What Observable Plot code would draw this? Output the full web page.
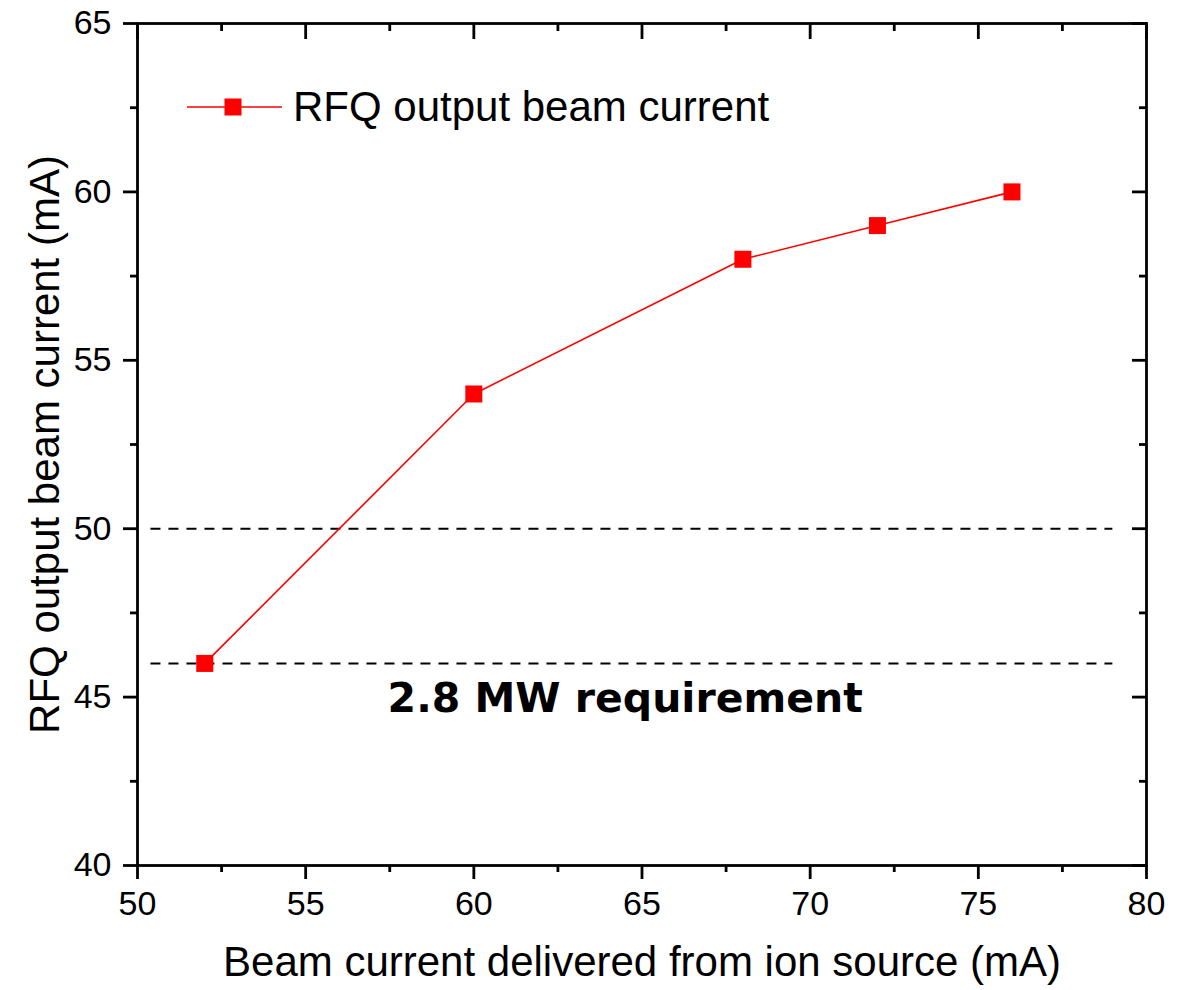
<!DOCTYPE html>
<html>
<head>
<meta charset="utf-8">
<script src="https://cdn.jsdelivr.net/npm/d3@7"></script>
<script src="https://cdn.jsdelivr.net/npm/@observablehq/plot@0.6"></script>
<style>
  html, body { margin: 0; padding: 0; background: #fff; }
  #wrap { position: relative; width: 1191px; height: 990px; }
  #legend { position: absolute; left: 187px; top: 83px; height: 48px; display: flex; align-items: center;
    font-family: "Liberation Sans", Arial, sans-serif; font-size: 42px; color: #000; }
  #legend svg { margin-right: 11px; }
</style>
</head>
<body>
<div id="wrap">
  <div id="chart"></div>
  <div id="legend"></div>
</div>
<script>
// ---- data ----
const sourceCurrent = [52, 60, 68, 72, 76];        // mA delivered from ion source
const rfqCurrent    = [46, 54, 58, 59, 60];        // RFQ output beam current (mA)
const seriesName = "RFQ output beam current";
const requirementLevels = [50, 46];
const requirementSpan = [50.4, 79];
const xTicks = [50, 55, 60, 65, 70, 75, 80];
const xMinorTicks = [52.5, 57.5, 62.5, 67.5, 72.5, 77.5];
const yTicks = [40, 45, 50, 55, 60, 65];
const yMinorTicks = [42.5, 47.5, 52.5, 57.5, 62.5];
const annotation = [{x: 64.5, y: 45, text: "2.8 MW requirement"}];
const xTitle = "Beam current delivered from ion source (mA)";
const yTitle = "RFQ output beam current (mA)";

const data = sourceCurrent.map((x, i) => ({x, y: rfqCurrent[i]}));
const blank = () => "";
const axisW = 2.8;

const chart = Plot.plot({
  width: 1191,
  height: 990,
  marginLeft: 137,
  marginRight: 45,
  marginTop: 23,
  marginBottom: 125,
  x: {domain: [50, 80]},
  y: {domain: [40, 65]},
  style: {fontFamily: "'Liberation Sans', Arial, sans-serif", color: "#000", background: "#fff", overflow: "visible"},
  marks: [
    // requirement lines
    Plot.ruleY(requirementLevels, {y: d => d, x1: requirementSpan[0], x2: requirementSpan[1],
      stroke: "#000", strokeWidth: 2, strokeDasharray: "10,8"}),
    // bottom axis
    Plot.axisX({ticks: xTicks, tickSize: 14, tickPadding: 11, fontSize: 34, strokeWidth: axisW, label: null}),
    Plot.axisX({ticks: xMinorTicks, tickSize: 7, tickFormat: blank, strokeWidth: axisW, label: null}),
    // top axis (inward)
    Plot.axisX({anchor: "top", ticks: xTicks, tickSize: -15, tickFormat: blank, strokeWidth: axisW, label: null}),
    Plot.axisX({anchor: "top", ticks: xMinorTicks, tickSize: -7, tickFormat: blank, strokeWidth: axisW, label: null}),
    // left axis
    Plot.axisY({ticks: yTicks, tickSize: 14, tickPadding: 12, fontSize: 34, strokeWidth: axisW, label: null}),
    Plot.axisY({ticks: yMinorTicks, tickSize: 7, tickFormat: blank, strokeWidth: axisW, label: null}),
    // right axis (inward)
    Plot.axisY({anchor: "right", ticks: yTicks, tickSize: -15, tickFormat: blank, strokeWidth: axisW, label: null}),
    Plot.axisY({anchor: "right", ticks: yMinorTicks, tickSize: -8, tickFormat: blank, strokeWidth: axisW, label: null}),
    Plot.frame({stroke: "#000", strokeWidth: axisW}),
    // axis titles
    Plot.text([xTitle], {frameAnchor: "bottom", dy: 97, fontSize: 42, lineAnchor: "middle", textAnchor: "middle"}),
    Plot.text([yTitle], {frameAnchor: "left", dx: -92, rotate: -90, fontSize: 42, lineAnchor: "middle", textAnchor: "middle"}),
    // series
    Plot.line(data, {x: "x", y: "y", stroke: "#ff0000", strokeWidth: 1.6}),
    Plot.dot(data, {x: "x", y: "y", symbol: "square", r: 9.6, fill: "#ff0000", stroke: "none"}),
    // annotation
    Plot.text(annotation, {x: "x", y: "y", text: "text", fontSize: 41, fontWeight: "bold",
      fontFamily: "'DejaVu Sans', sans-serif", lineAnchor: "middle", fill: "#000", dy: 2})
  ]
});
document.getElementById("chart").appendChild(chart);

// legend (inside the plot area, top-left)
const lg = document.getElementById("legend");
lg.innerHTML = `<svg width="95" height="20" viewBox="0 0 95 20">
  <line x1="0" y1="10" x2="95" y2="10" stroke="#ff0000" stroke-width="1.6"/>
  <rect x="37.5" y="1.5" width="17" height="17" fill="#ff0000"/>
</svg><span>${seriesName}</span>`;
</script>
</body>
</html>
